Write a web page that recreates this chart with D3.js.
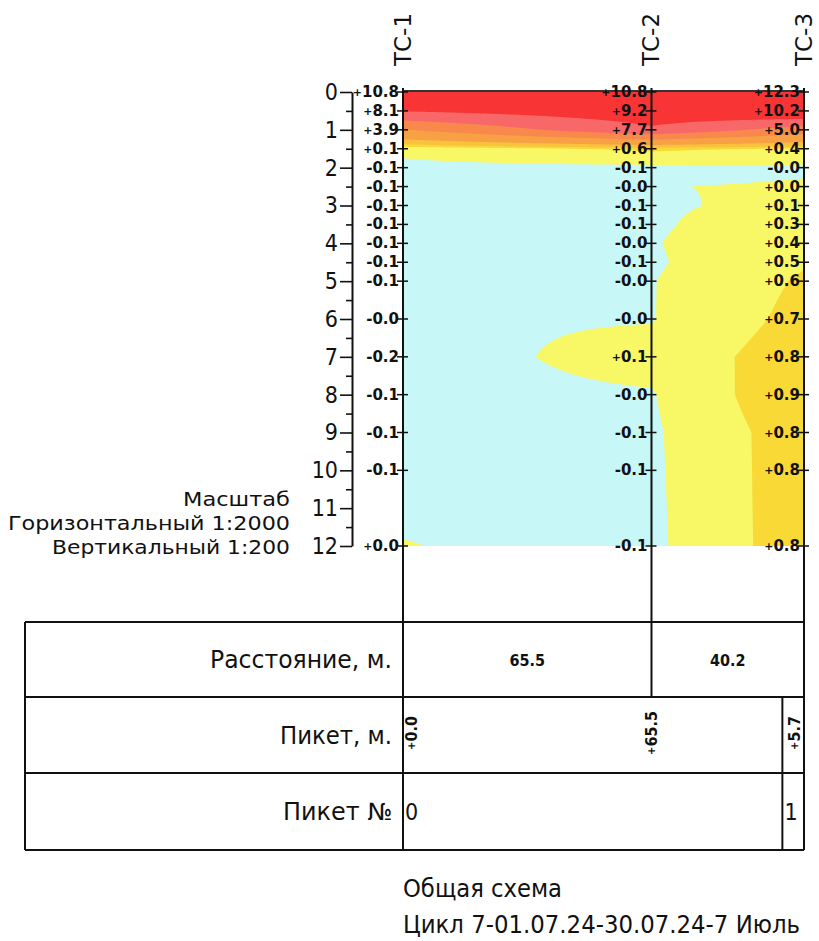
<!DOCTYPE html>
<html>
<head>
<meta charset="utf-8">
<script src="https://cdn.jsdelivr.net/npm/d3@7/dist/d3.min.js"></script>
<style>
  html, body { margin: 0; padding: 0; background: #fff; }
  svg text { font-family: "DejaVu Sans", sans-serif; fill: #111; }
  .val { font-size: 15px; font-weight: bold; }
  .cond { font-family: "DejaVu Sans Condensed", "DejaVu Sans", sans-serif; font-stretch: condensed; }
</style>
</head>
<body>
<svg id="chart" width="819" height="941"></svg>
<script>
// Thermometric boreholes along the profile
const boreholes = ["ТС-1", "ТС-2", "ТС-3"];
const boreholeDist = [0, 65.5, 105.7];            // chainage, m

// Measurement depths, m
const depths = [0, 0.5, 1, 1.5, 2, 2.5, 3, 3.5, 4, 4.5, 5, 6, 7, 8, 9, 10, 12];

// Ground temperature, °C, per borehole
const tempTC1 = [10.8, 8.1, 3.9, 0.1, -0.1, -0.1, -0.1, -0.1, -0.1, -0.1, -0.1, -0.04, -0.16, -0.1, -0.1, -0.1, 0.01];
const tempTC2 = [10.8, 9.2, 7.7, 0.6, -0.1, -0.01, -0.06, -0.06, -0.03, -0.06, -0.02, -0.02, 0.14, -0.03, -0.07, -0.08, -0.1];
const tempTC3 = [12.3, 10.2, 5.0, 0.4, -0.04, 0.03, 0.12, 0.3, 0.4, 0.46, 0.56, 0.66, 0.8, 0.94, 0.8, 0.8, 0.8];

// Depth axis ticks
const depthMajor = [0, 1, 2, 3, 4, 5, 6, 7, 8, 9, 10, 11, 12];
const depthMinor = [0.5, 1.5, 2.5, 3.5, 4.5, 5.5, 6.5, 7.5, 8.5, 9.5, 10.5, 11.5];

// Temperature classes
const bandThresholds = [0, 0.5, 1, 2, 4, 6, 8];
const bandColors = ["#c7f7f7", "#f8f766", "#f8d936", "#f8c23e", "#f8a044", "#f8884c", "#f86868", "#f83434"];

// Pickets (stations every 100 m)
const picketNumbers = [0, 1];
const picketDist = [0, 100];

// Captions
const scaleLines = ["Масштаб", "Горизонтальный 1:2000", "Вертикальный 1:200"];
const rowTitles = ["Расстояние, м.", "Пикет, м.", "Пикет №"];
const footerLines = ["Общая схема", "Цикл 7-01.07.24-30.07.24-7 Июль"];

const svg = d3.select("#chart");

const x = d3.scaleLinear().domain([0, d3.max(boreholeDist)]).range([403, 804]);
const y = d3.scaleLinear().domain([0, 12]).range([92, 546]);

const signOf = v => (v < 0 || Object.is(v, -0) ? "-" : "+");
const series = [tempTC1, tempTC2, tempTC3];

// signed number with a small plus sign in front
function signedText(sel, v) {
  sel.append("tspan").style("font-size", signOf(v) === "+" ? "11px" : null).text(signOf(v));
  sel.append("tspan").text(Math.abs(v).toFixed(1));
}

// ---------- temperature field ----------
// vertical profile at each borehole (piecewise linear in depth)
const profiles = series.map(vals => d3.scaleLinear().domain(depths).range(vals).clamp(true));

const nx = 402, ny = 454;
const D = d3.max(boreholeDist), Z = 12;
const grid = new Float64Array(nx * ny);
for (let j = 0; j < ny; j++) {
  const z = (j + 0.5) / ny * Z;
  const across = d3.scaleLinear().domain(boreholeDist).range(profiles.map(p => p(z))).clamp(true);
  for (let i = 0; i < nx; i++) {
    grid[j * nx + i] = across((i + 0.5) / nx * D);
  }
}

const contours = d3.contours().size([nx, ny]).thresholds(bandThresholds)(grid);
const toScreen = d3.geoTransform({
  point(gx, gy) { this.stream.point(x(gx / nx * D), y(gy / ny * Z)); }
});
const path = d3.geoPath(toScreen);

const field = svg.append("g");
field.append("rect")
  .attr("x", x(0)).attr("y", y(0))
  .attr("width", x(D) - x(0)).attr("height", y(Z) - y(0))
  .attr("fill", bandColors[0]);
field.selectAll("path.band").data(contours).join("path")
  .attr("class", "band")
  .attr("d", path)
  .attr("fill", (d, i) => bandColors[i + 1]);

// top edge of the section
svg.append("line")
  .attr("x1", x(0)).attr("x2", x(D)).attr("y1", y(0) - 1).attr("y2", y(0) - 1)
  .attr("stroke", "#333").attr("stroke-width", 2);

// ---------- depth axis ----------
const axisX = 352;
const gMajor = svg.append("g").attr("transform", `translate(${axisX},0)`)
  .call(d3.axisLeft(y).tickValues(depthMajor).tickSize(12).tickSizeOuter(0).tickPadding(2).tickFormat(d3.format("d")));
gMajor.select(".domain").attr("stroke", "#111").attr("stroke-width", 2);
gMajor.selectAll(".tick line").attr("stroke", "#111").attr("stroke-width", 1.6);
gMajor.selectAll(".tick text")
  .attr("class", "cond")
  .style("font-size", "23px").attr("fill", "#111");
const gMinor = svg.append("g").attr("transform", `translate(${axisX},0)`)
  .call(d3.axisLeft(y).tickValues(depthMinor).tickSize(6).tickSizeOuter(0).tickFormat(""));
gMinor.select(".domain").remove();
gMinor.selectAll(".tick line").attr("stroke", "#111").attr("stroke-width", 1.6);

// ---------- borehole lines & headers ----------
const lineBottoms = [850, 697, 850];
boreholes.forEach((name, k) => {
  const cx = x(boreholeDist[k]);
  svg.append("line")
    .attr("x1", cx).attr("x2", cx).attr("y1", y(0) - 4).attr("y2", lineBottoms[k])
    .attr("stroke", "#111").attr("stroke-width", 2);
  svg.append("text")
    .attr("transform", `translate(${cx},66) rotate(-90)`)
    .attr("dominant-baseline", "central")
    .attr("text-anchor", "start")
    .style("font-size", "23px")
    .text(name);
});

// ---------- measured values ----------
series.forEach((vals, k) => {
  const cx = x(boreholeDist[k]);
  const g = svg.append("g");
  g.selectAll("line").data(depths).join("line")
    .attr("x1", cx - 6).attr("x2", cx + 5)
    .attr("y1", d => y(d)).attr("y2", d => y(d))
    .attr("stroke", "#111").attr("stroke-width", 1.5);
  g.selectAll("text").data(vals).join("text")
    .attr("class", "val")
    .attr("x", cx - 4)
    .attr("y", (v, i) => y(depths[i]))
    .attr("text-anchor", "end")
    .attr("dominant-baseline", "central")
    .each(function (v) { signedText(d3.select(this), v); });
});

// ---------- scale caption ----------
const scaleBase = [506, 530, 554];
const scaleWidths = [107, 282, 238];
scaleLines.forEach((t, i) => {
  svg.append("text")
    .attr("x", 290).attr("y", scaleBase[i])
    .attr("text-anchor", "end")
    .attr("textLength", scaleWidths[i]).attr("lengthAdjust", "spacingAndGlyphs")
    .style("font-size", "20px")
    .text(t);
});

// ---------- table ----------
const tbl = { x0: 25, x1: 804, rows: [622, 697, 773, 850] };
const tg = svg.append("g").attr("stroke", "#111").attr("stroke-width", 2);
tbl.rows.forEach(r => tg.append("line").attr("x1", tbl.x0).attr("x2", tbl.x1).attr("y1", r).attr("y2", r));
tg.append("line").attr("x1", tbl.x0).attr("x2", tbl.x0).attr("y1", tbl.rows[0]).attr("y2", tbl.rows[3]);
tg.append("line").attr("x1", tbl.x1).attr("x2", tbl.x1).attr("y1", tbl.rows[0]).attr("y2", tbl.rows[3]);
// picket dividers in the lower two rows
picketDist.forEach(p => {
  tg.append("line").attr("x1", x(p)).attr("x2", x(p)).attr("y1", tbl.rows[1]).attr("y2", tbl.rows[3]);
});

const rowMid = [660, 736, 812];
const rowWidths = [182, 112, 109];
rowTitles.forEach((t, i) => {
  svg.append("text")
    .attr("x", 392).attr("y", rowMid[i])
    .attr("text-anchor", "end").attr("dominant-baseline", "central")
    .attr("textLength", rowWidths[i]).attr("lengthAdjust", "spacingAndGlyphs")
    .style("font-size", "24px")
    .text(t);
});

// distances between boreholes
d3.pairs(boreholeDist).forEach(([a, b]) => {
  svg.append("text")
    .attr("class", "val cond")
    .style("font-size", "16px")
    .attr("x", (x(a) + x(b)) / 2).attr("y", rowMid[0])
    .attr("text-anchor", "middle").attr("dominant-baseline", "central")
    .text((b - a).toFixed(1));
});

// chainage of each borehole from its picket
boreholeDist.forEach((d, k) => {
  const pk = Math.floor(d / 100 + 1e-9);
  const off = d - pk * 100;
  const cx = k === 0 ? x(d) + 8 : (k === boreholeDist.length - 1 ? (x(picketDist[pk]) + x(d)) / 2 + 1 : x(d));
  const t = svg.append("text")
    .attr("class", "val cond")
    .style("font-size", "16px")
    .attr("transform", `translate(${cx},${rowMid[1] - 3}) rotate(-90)`)
    .attr("text-anchor", "middle").attr("dominant-baseline", "central");
  signedText(t, off);
});

// picket numbers
picketNumbers.forEach((n, i) => {
  svg.append("text")
    .attr("class", "cond")
    .attr("x", x(picketDist[i]) + 2).attr("y", rowMid[2])
    .attr("dominant-baseline", "central")
    .style("font-size", "23px")
    .text(n);
});

// ---------- footer ----------
const footBase = [897, 933];
const footWidths = [159, 397];
footerLines.forEach((t, i) => {
  svg.append("text")
    .attr("x", 403).attr("y", footBase[i])
    .attr("textLength", footWidths[i]).attr("lengthAdjust", "spacingAndGlyphs")
    .style("font-size", "24px")
    .text(t);
});
</script>
</body>
</html>
